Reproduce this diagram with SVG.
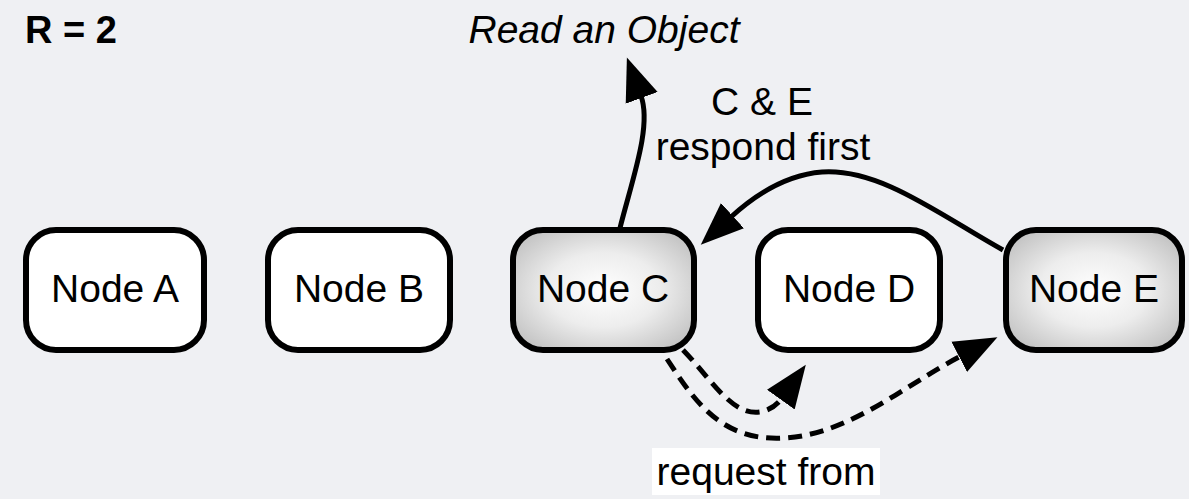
<svg xmlns="http://www.w3.org/2000/svg" width="1189" height="499" viewBox="0 0 1189 499">
  <style>
    .box { fill: #ffffff; stroke: #000000; stroke-width: 6; }
    .box.hit { fill: url(#shade); }
    .label { font-family: "Liberation Sans", Arial, sans-serif; font-size: 39px; fill: #000000; text-anchor: middle; }
    .edge { fill: none; stroke: #000000; stroke-width: 5; }
    .dash { stroke-dasharray: 14 8; }
  </style>
  <defs>
    <radialGradient id="shade" cx="0.5" cy="0.5" r="0.62">
      <stop offset="0" stop-color="#ffffff"/>
      <stop offset="0.5" stop-color="#ededed"/>
      <stop offset="1" stop-color="#c2c2c2"/>
    </radialGradient>
    <marker id="head" markerUnits="userSpaceOnUse" markerWidth="44" markerHeight="36" viewBox="0 0 44 36" refX="2" refY="18" orient="auto">
      <path d="M0 1 L43 18 L0 35 Z" fill="#000000"/>
    </marker>
  </defs>

  <rect width="1189" height="499" fill="#eff0f3"/>

  <text x="25" y="43" font-family="'Liberation Sans', Arial, sans-serif" font-size="38" font-weight="bold">R = 2</text>
  <text x="604" y="43" class="label" font-style="italic">Read an Object</text>

  <g id="connectors">
    <path class="edge" d="M620 228 C632 180, 652 126, 641 96" marker-end="url(#head)"/>
    <path class="edge" d="M1003 250 C940 215, 880 168, 822 172 C785 175, 755 195, 731 217" marker-end="url(#head)"/>
    <path class="edge dash" d="M683 350 C712 380, 732 416, 760 412 C770 410, 777 405, 782 398" marker-end="url(#head)"/>
    <path class="edge dash" d="M667 359 C695 402, 722 442, 785 438 C850 434, 905 385, 961 356" marker-end="url(#head)"/>
  </g>

  <g id="label-respond">
    <text x="762" y="115" class="label">C &amp; E</text>
    <text x="763" y="160" class="label">respond first</text>
  </g>

  <g id="label-request">
    <rect x="652" y="448" width="228" height="47" fill="#ffffff"/>
    <text x="766" y="485" class="label">request from</text>
  </g>

  <g id="node-a">
    <rect class="box" x="26" y="230" width="178" height="120" rx="30"/>
    <text x="115" y="302" class="label">Node A</text>
  </g>
  <g id="node-b">
    <rect class="box" x="268" y="230" width="182" height="120" rx="30"/>
    <text x="359" y="302" class="label">Node B</text>
  </g>
  <g id="node-c">
    <rect class="box hit" x="513" y="230" width="181" height="120" rx="30"/>
    <text x="603" y="302" class="label">Node C</text>
  </g>
  <g id="node-d">
    <rect class="box" x="758" y="230" width="182" height="120" rx="30"/>
    <text x="849" y="302" class="label">Node D</text>
  </g>
  <g id="node-e">
    <rect class="box hit" x="1006" y="230" width="176" height="120" rx="30"/>
    <text x="1094" y="302" class="label">Node E</text>
  </g>
</svg>
